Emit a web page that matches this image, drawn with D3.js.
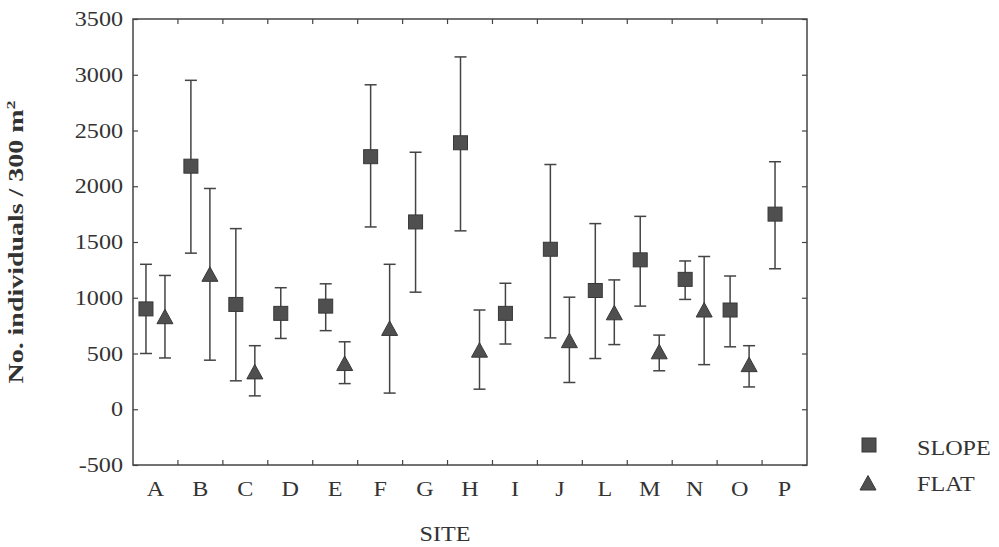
<!DOCTYPE html>
<html>
<head>
<meta charset="utf-8">
<script src="https://cdn.jsdelivr.net/npm/d3@7"></script>
<style>
  body { margin: 0; background: #fff; }
  svg { display: block; }
  text { font-family: "Liberation Serif", "DejaVu Serif", serif; fill: #333; }
</style>
</head>
<body>
<svg id="chart" width="999" height="547"></svg>
<script>
// ---- data ----
const sites = ["A","B","C","D","E","F","G","H","I","J","L","M","N","O","P"];
const slopeMean = [900, 2180, 940, 860, 925, 2265, 1680, 2390, 860, 1435, 1065, 1340, 1165, 890, 1750];
const slopeHigh = [1300, 2950, 1620, 1090, 1125, 2910, 2305, 3160, 1130, 2195, 1665, 1730, 1330, 1195, 2220];
const slopeLow  = [500, 1400, 255, 635, 705, 1635, 1050, 1600, 585, 640, 455, 925, 985, 560, 1260];
const flatMean  = [830, 1210, 335, null, 410, 725, null, 530, null, 615, 865, 515, 890, 400, null];
const flatHigh  = [1200, 1980, 570, null, 605, 1300, null, 890, null, 1005, 1160, 665, 1370, 570, null];
const flatLow   = [460, 440, 120, null, 230, 145, null, 180, null, 240, 580, 345, 400, 200, null];
const yTicks = [-500, 0, 500, 1000, 1500, 2000, 2500, 3000, 3500];
const seriesNames = ["SLOPE", "FLAT"];
const yTitle = "No. individuals / 300 m";
const xTitle = "SITE";

(function () {
// ---- layout ----
const svg = d3.select("#chart");
const pL = 133, pR = 807, pT = 19, pB = 465;
const x = d3.scaleBand().domain(sites).range([pL, pR]).padding(0);
const y = d3.scaleLinear().domain([-500, 3500]).range([pB, pT]);
const off = 9.5, cap = 6, sx = 1.15;
const lineCol = "#444", markFill = "#4f4f4f", markStroke = "#383838";

// frame
svg.append("rect").attr("x", pL).attr("y", pT)
  .attr("width", pR - pL).attr("height", pB - pT)
  .attr("fill", "none").attr("stroke", "#444").attr("stroke-width", 1.5);

// left axis (inward ticks)
const ya = svg.append("g").attr("transform", `translate(${pL},0)`)
  .call(d3.axisLeft(y).tickValues(yTicks).tickSize(-5).tickPadding(10).tickFormat(d => String(d)));
ya.select(".domain").remove();
ya.selectAll("line").attr("stroke", "#444").attr("stroke-width", 1.2);
ya.selectAll("text").attr("font-size", 21).attr("fill", "#333")
  .style("font-family", "'Liberation Serif', serif")
  .attr("x", -10 / sx).attr("transform", `scale(${sx},1)`);

// right axis ticks (inward)
const yr = svg.append("g").attr("transform", `translate(${pR},0)`)
  .call(d3.axisRight(y).tickValues(yTicks).tickSize(-5).tickFormat(""));
yr.select(".domain").remove();
yr.selectAll("line").attr("stroke", "#444").attr("stroke-width", 1.2);

// bottom axis labels
const xa = svg.append("g").attr("transform", `translate(0,${pB})`)
  .call(d3.axisBottom(x).tickSize(0).tickPadding(16));
xa.select(".domain").remove();
xa.selectAll("text").attr("font-size", 21).attr("fill", "#333")
  .style("font-family", "'Liberation Serif', serif")
  .attr("transform", `scale(${sx},1)`);

// boundary ticks, bottom & top (inward)
const bounds = sites.slice(1).map(s => x(s));
svg.append("g").selectAll("line").data(bounds).join("line")
  .attr("x1", d => d).attr("x2", d => d).attr("y1", pB).attr("y2", pB - 5)
  .attr("stroke", "#444").attr("stroke-width", 1.2);
svg.append("g").selectAll("line").data(bounds).join("line")
  .attr("x1", d => d).attr("x2", d => d).attr("y1", pT).attr("y2", pT + 5)
  .attr("stroke", "#444").attr("stroke-width", 1.2);

// data rows
const slope = sites.map((s, i) => ({s, m: slopeMean[i], hi: slopeHigh[i], lo: slopeLow[i]}));
const flat = sites.map((s, i) => ({s, m: flatMean[i], hi: flatHigh[i], lo: flatLow[i]})).filter(d => d.m != null);

function errorBars(data, dx) {
  const g = svg.append("g").attr("stroke", lineCol).attr("stroke-width", 1.5);
  const cx = d => x(d.s) + x.bandwidth() / 2 + dx;
  g.selectAll("line.v").data(data).join("line").attr("class", "v")
    .attr("x1", cx).attr("x2", cx).attr("y1", d => y(d.hi)).attr("y2", d => y(d.lo));
  g.selectAll("line.h").data(data).join("line").attr("class", "h")
    .attr("x1", d => cx(d) - cap).attr("x2", d => cx(d) + cap).attr("y1", d => y(d.hi)).attr("y2", d => y(d.hi));
  g.selectAll("line.l").data(data).join("line").attr("class", "l")
    .attr("x1", d => cx(d) - cap).attr("x2", d => cx(d) + cap).attr("y1", d => y(d.lo)).attr("y2", d => y(d.lo));
  return cx;
}
const sq = 14;
const triPath = "M0,-7.5L8,7L-8,7Z";

const cxS = errorBars(slope, -off);
svg.append("g").selectAll("rect").data(slope).join("rect")
  .attr("x", d => cxS(d) - sq / 2).attr("y", d => y(d.m) - sq / 2)
  .attr("width", sq).attr("height", sq)
  .attr("fill", markFill).attr("stroke", markStroke).attr("stroke-width", 1);

const cxF = errorBars(flat, off);
svg.append("g").selectAll("path").data(flat).join("path")
  .attr("d", triPath)
  .attr("transform", d => `translate(${cxF(d)},${y(d.m)})`)
  .attr("fill", markFill).attr("stroke", markStroke).attr("stroke-width", 1);

// axis titles
const yt = svg.append("text")
  .attr("transform", "translate(23,242) rotate(-90)")
  .attr("text-anchor", "middle").attr("font-size", 20).attr("font-weight", "bold")
  .attr("textLength", 283).attr("lengthAdjust", "spacingAndGlyphs");
yt.append("tspan").text(yTitle);
yt.append("tspan").attr("font-size", 13).attr("dy", -8).text("2");

svg.append("text").attr("transform", `translate(445,541) scale(${sx},1)`)
  .attr("text-anchor", "middle").attr("font-size", 21).text(xTitle);

// legend
const lg = svg.append("g");
lg.append("rect").attr("x", 862).attr("y", 438).attr("width", sq).attr("height", sq)
  .attr("fill", markFill).attr("stroke", markStroke);
lg.append("path").attr("d", triPath).attr("transform", "translate(868,483)")
  .attr("fill", markFill).attr("stroke", markStroke);
lg.append("text").attr("transform", `translate(917,455) scale(${sx},1)`).attr("font-size", 21).text(seriesNames[0]);
lg.append("text").attr("transform", `translate(917,491) scale(${sx},1)`).attr("font-size", 21).text(seriesNames[1]);
})();
</script>
</body>
</html>
